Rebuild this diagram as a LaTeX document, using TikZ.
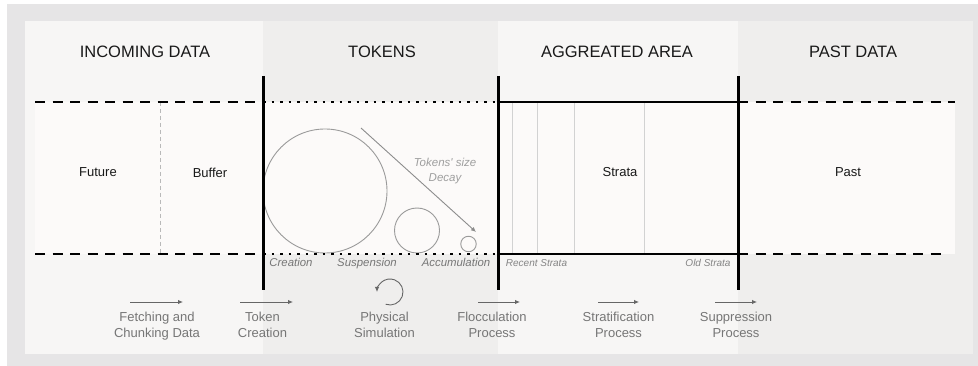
\documentclass[tikz,border=0pt]{standalone}
\usepackage{fontspec}
\setmainfont{Liberation Sans}
\usetikzlibrary{arrows.meta, positioning}
\definecolor{framegray}{HTML}{E6E5E6}
\definecolor{panellight}{HTML}{F7F6F5}
\definecolor{paneldark}{HTML}{EFEEED}
\definecolor{bandfill}{HTML}{FCFAF9}
\definecolor{tokengray}{HTML}{9A9A9A}
\definecolor{labelgray}{HTML}{767676}
\definecolor{stratagray}{HTML}{D2D2D2}

\begin{document}
\begin{tikzpicture}[x=1pt, y=-1pt,
            every node/.style={inner sep=0pt},
            heading/.style={font=\fontsize{16.5}{19}\selectfont, text=black!90},
            zone/.style={font=\fontsize{13}{15}\selectfont, text=black!90},
            sublabel/.style={font=\fontsize{11.4}{13}\selectfont\itshape, text=labelgray, anchor=base},
            tinylabel/.style={font=\fontsize{10}{12}\selectfont\itshape, text=labelgray!90, anchor=base},
            process/.style={font=\fontsize{13}{16}\selectfont, text=labelgray, align=center, anchor=north},
            token/.style={draw=tokengray, line width=0.9pt, circle},
            limit/.style={line width=3pt},
            edge/.style={line width=2.6pt},
            cut/.style={line width=2.6pt, dash pattern=on 10pt off 7.5pt},
            dots/.style={line width=2.6pt, dash pattern=on 2.6pt off 5.9pt},
            flow/.style={draw=black!60, line width=0.9pt, -{Latex[length=5pt,width=4.5pt]}},
            >=Latex]
    \useasboundingbox (0,0) rectangle (978,366);
    \fill[white] (0,0) rectangle (978,366);
    \fill[framegray] (7,4) rectangle (978,366);
    % panels
    \fill[panellight] (25,21) rectangle (263,354);
    \fill[paneldark] (263,21) rectangle (498,354);
    \fill[panellight] (498,21) rectangle (738,354);
    \fill[paneldark] (738,21) rectangle (973,354);
    \fill[bandfill] (35,102) rectangle (955,254);

    % headings
    \node[heading] (inc) at (145,52) {INCOMING DATA};
    \node[heading] (tok) at (382,52) {TOKENS};
    \node[heading] (agg) at (617,52) {AGGREATED AREA};
    \node[heading] (old) at (853,52) {PAST DATA};

    % buffer split and strata
    \draw[gray!55, line width=0.8pt, dash pattern=on 4pt off 3pt] (160,102) -- (160,254);
    \foreach \x in {512,537,574,644}
        \draw[stratagray, line width=0.9pt] (\x,102) -- (\x,254);

    % tokens
    \node[token, minimum size=124pt] (big) at (325,191) {};
    \node[token, minimum size=45pt] (mid) at (417,230.5) {};
    \node[token, minimum size=15.5pt] (small) at (468.5,244) {};
    \coordinate (decayA) at (361,128);
    \coordinate (decayB) at (476,232);
    \draw[flow, draw=black!45] (decayA) -- (decayB);
    \node[font=\fontsize{11.5}{15}\selectfont\itshape, text=black!38, align=center] (decay) at (445,171) {Tokens\textquotesingle{} size\\Decay};

    % borders
    \draw[cut] (35,102) -- (263,102);
    \draw[cut] (35,254) -- (263,254);
    \draw[dots] (263,102) -- (498,102);
    \draw[dots] (263,254) -- (498,254);
    \draw[edge] (498,102) -- (738,102);
    \draw[edge] (498,254) -- (738,254);
    \draw[cut] (738,102) -- (955,102);
    \draw[cut] (738,254) -- (941,254);
    \foreach \x in {263,498,738}
        \draw[limit] (\x,76) -- (\x,290);

    % zone labels
    \node[zone] (future) at (98,172.5) {Future};
    \node[zone] (buffer) at (210,172.5) {Buffer};
    \node[zone] (strata) at (620,172.5) {Strata};
    \node[zone] (past) at (848,172.5) {Past};

    \node[sublabel] (creat) at (291,267) {Creation};
    \node[sublabel] (susp) at (367,267) {Suspension};
    \node[sublabel] (accu) at (456,267) {Accumulation};
    \node[tinylabel] (recent) at (536.5,267) {Recent Strata};
    \node[tinylabel] (oldstr) at (708,267) {Old Strata};

    % processes
    \node[process] (fetch) at (157,312) {Fetching and\\Chunking Data};
    \node[process] (tokcr) at (262.5,312) {Token\\Creation};
    \node[process] (phys) at (384.5,312) {Physical\\Simulation};
    \node[process] (floc) at (492,312) {Flocculation\\Process};
    \node[process] (strat) at (618.5,312) {Stratification\\Process};
    \node[process] (supp) at (736,312) {Suppression\\Process};

    \draw[flow] ([xshift=-27pt,yshift=10pt]fetch.north) -- +(53pt,0);
    \draw[flow] ([xshift=-22.5pt,yshift=10pt]tokcr.north) -- +(53pt,0);
    \draw[flow] ([xshift=-14pt,yshift=10pt]floc.north) -- +(42pt,0);
    \draw[flow] ([xshift=-20.5pt,yshift=10pt]strat.north) -- +(41pt,0);
    \draw[flow] ([xshift=-21pt,yshift=10pt]supp.north) -- +(42pt,0);
    \draw[flow] ([xshift=5.5pt,yshift=20pt]phys.north) ++(-110:13pt) arc[start angle=-110, end angle=180, radius=13pt];
\end{tikzpicture}
\end{document}
